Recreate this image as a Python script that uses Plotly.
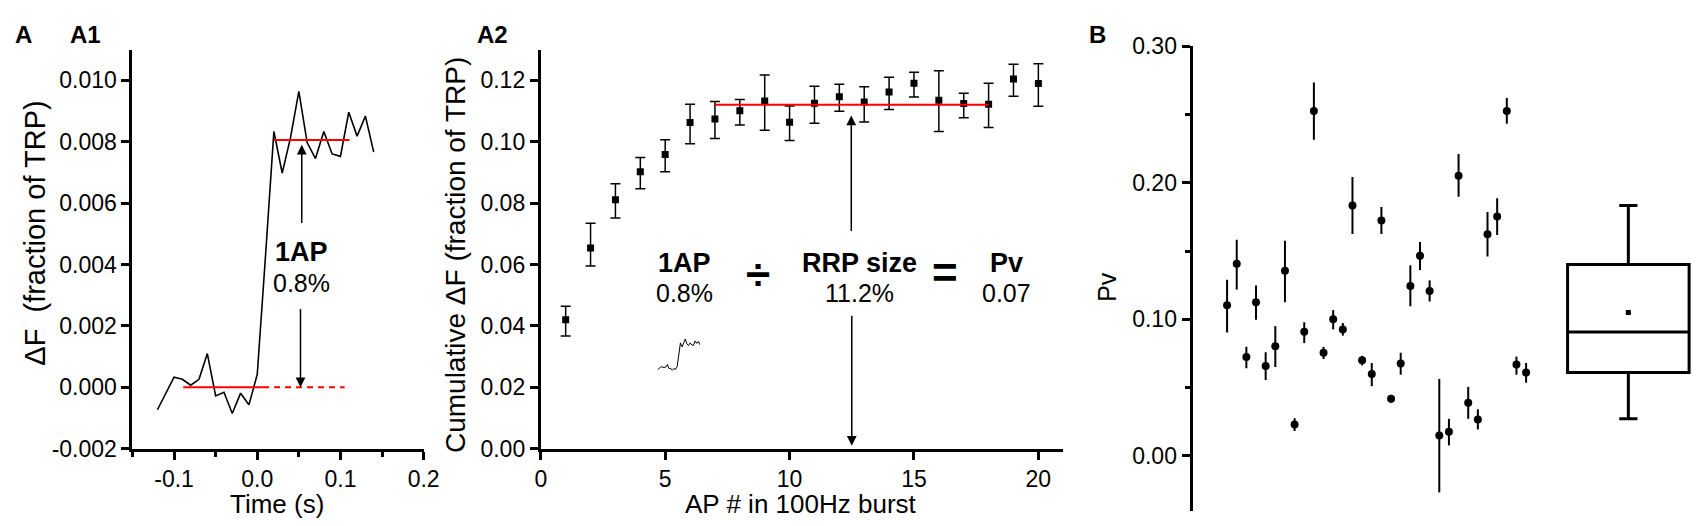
import plotly.graph_objects as go
import numpy as np

# ---- A1: single AP trace ----
time_s = [-0.12, -0.11, -0.10, -0.09, -0.08, -0.07, -0.06, -0.05, -0.04, -0.03,
          -0.02, -0.01, 0.00, 0.01, 0.02, 0.03, 0.04, 0.05, 0.06, 0.07,
          0.08, 0.09, 0.10, 0.11, 0.12, 0.13, 0.14]
dF = [-0.00073, -0.00020, 0.00033, 0.00026, 0.00007, 0.00026, 0.00110, -0.00028,
      -0.00016, -0.00085, -0.00019, -0.00057, 0.00042, 0.00430, 0.00833, 0.00698,
      0.00813, 0.00964, 0.00797, 0.00745, 0.00833, 0.00760, 0.00752, 0.00896,
      0.00818, 0.00883, 0.00766]
base_solid_t = [-0.089, 0.007]
base_dash_t = [0.007, 0.105]
base_level = 0.0
peak_t = [0.02, 0.111]
peak_level = 0.00805

# ---- A2: cumulative response in 100 Hz burst ----
ap_num = list(range(1, 21))
cum_dF = [0.0420, 0.0654, 0.0811, 0.0902, 0.0958, 0.1062, 0.1074, 0.1101, 0.1132, 0.1063,
          0.1125, 0.1146, 0.1129, 0.1162, 0.1190, 0.1135, 0.1124, 0.1122, 0.1204, 0.1189]
cum_hi = [0.0464, 0.0734, 0.0863, 0.0948, 0.1006, 0.1122, 0.1131, 0.1137, 0.1217, 0.1116,
          0.1180, 0.1187, 0.1179, 0.1210, 0.1226, 0.1231, 0.1158, 0.1190, 0.1252, 0.1254]
cum_lo = [0.0367, 0.0595, 0.0751, 0.0847, 0.0902, 0.0993, 0.1010, 0.1054, 0.1037, 0.1004,
          0.1060, 0.1099, 0.1064, 0.1105, 0.1145, 0.1033, 0.1078, 0.1046, 0.1148, 0.1115]
rrp_x = [7, 18]
rrp_level = 0.112

# ---- B: Pv per bouton ----
pv = [0.1103, 0.1407, 0.0724, 0.1126, 0.0658, 0.0803, 0.1356, 0.0230, 0.0909, 0.2527,
      0.0756, 0.1002, 0.0927, 0.1834, 0.0700, 0.0600, 0.1724, 0.0419, 0.0677, 0.1244,
      0.1466, 0.1208, 0.0150, 0.0178, 0.2052, 0.0389, 0.0267, 0.1623, 0.1754, 0.2527,
      0.0670, 0.0611]
pv_hi = [0.1290, 0.1583, 0.0799, 0.1248, 0.0759, 0.0951, 0.1576, 0.0276, 0.0979, 0.2735,
         0.0799, 0.1068, 0.0974, 0.2044, 0.0733, 0.0681, 0.1824, 0.0447, 0.0756, 0.1396,
         0.1567, 0.1286, 0.0564, 0.0272, 0.2211, 0.0506, 0.0342, 0.1787, 0.1888, 0.2621,
         0.0728, 0.0681]
pv_lo = [0.0904, 0.1220, 0.0642, 0.0998, 0.0557, 0.0651, 0.1126, 0.0183, 0.0827, 0.2316,
         0.0710, 0.0927, 0.0881, 0.1625, 0.0663, 0.0511, 0.1625, 0.0389, 0.0595, 0.1096,
         0.1361, 0.1131, -0.0267, 0.0077, 0.1899, 0.0272, 0.0194, 0.1461, 0.1618, 0.2433,
         0.0595, 0.0536]
pv_idx = list(range(1, len(pv) + 1))
box_q1, box_median, box_q3 = 0.0612, 0.0907, 0.1403
box_low, box_high, box_mean = 0.0272, 0.1835, 0.105
box_pos = 42.6

FONT = "Liberation Sans, Arial, sans-serif"
W, H = 1700, 526

fig = go.Figure()

# A1
fig.add_trace(go.Scatter(x=time_s, y=dF, mode="lines", line=dict(color="black", width=1.6),
                         xaxis="x", yaxis="y"))
fig.add_trace(go.Scatter(x=base_solid_t, y=[base_level] * 2, mode="lines",
                         line=dict(color="red", width=2), xaxis="x", yaxis="y"))
fig.add_trace(go.Scatter(x=base_dash_t, y=[base_level] * 2, mode="lines",
                         line=dict(color="red", width=2, dash="6px,5px"), xaxis="x", yaxis="y"))
fig.add_trace(go.Scatter(x=peak_t, y=[peak_level] * 2, mode="lines",
                         line=dict(color="red", width=2), xaxis="x", yaxis="y"))

# A2
cum = np.array(cum_dF)
fig.add_trace(go.Scatter(
    x=ap_num, y=cum_dF, mode="markers",
    marker=dict(symbol="square", size=7, color="black"),
    error_y=dict(type="data", symmetric=False, array=np.array(cum_hi) - cum,
                 arrayminus=cum - np.array(cum_lo), color="black", thickness=1.5, width=5),
    xaxis="x2", yaxis="y2"))
fig.add_trace(go.Scatter(x=rrp_x, y=[rrp_level] * 2, mode="lines",
                         line=dict(color="red", width=2), xaxis="x2", yaxis="y2"))
# inset: miniature of the single AP trace
fig.add_trace(go.Scatter(x=time_s, y=dF, mode="lines", line=dict(color="black", width=1),
                         xaxis="x4", yaxis="y4"))

# B
pva = np.array(pv)
fig.add_trace(go.Scatter(
    x=pv_idx, y=pv, mode="markers",
    marker=dict(symbol="circle", size=8, color="black"),
    error_y=dict(type="data", symmetric=False, array=np.array(pv_hi) - pva,
                 arrayminus=pva - np.array(pv_lo), color="black", thickness=2, width=0),
    xaxis="x3", yaxis="y3"))
fig.add_trace(go.Box(
    x=[box_pos], q1=[box_q1], median=[box_median], q3=[box_q3],
    lowerfence=[box_low], upperfence=[box_high], width=12.6, whiskerwidth=0.15,
    line=dict(color="black", width=3), fillcolor="white", boxpoints=False,
    xaxis="x3", yaxis="y3"))
fig.add_trace(go.Scatter(x=[box_pos], y=[box_mean], mode="markers",
                         marker=dict(symbol="square", size=5, color="black"),
                         xaxis="x3", yaxis="y3"))

axis_common = dict(showline=True, linecolor="black", linewidth=3, ticks="outside",
                   tickwidth=2.5, ticklen=8, tickcolor="black", showgrid=False,
                   zeroline=False, tickfont=dict(size=23, color="black", family=FONT))
minor_ticks = dict(tick0=0, ticks="outside", ticklen=5, tickwidth=2.5, tickcolor="black")

a1_yticks = [-0.002, 0.0, 0.002, 0.004, 0.006, 0.008, 0.010]

fig.update_layout(
    width=W, height=H, margin=dict(l=0, r=0, t=0, b=0),
    paper_bgcolor="white", plot_bgcolor="white", showlegend=False,
    font=dict(family=FONT, color="black", size=22),
    xaxis=dict(axis_common, domain=[120 / W, 415 / W], range=[-0.15, 0.2],
               tickvals=[-0.1, 0.0, 0.1, 0.2], ticktext=["-0.1", "0.0", "0.1", "0.2"],
               minor=dict(minor_ticks, dtick=0.05), anchor="y"),
    yaxis=dict(axis_common, domain=[1 - 450 / H, 1 - 30 / H], range=[-0.002, 0.011],
               tickvals=a1_yticks, ticktext=[f"{v:.3f}" for v in a1_yticks], anchor="x"),
    xaxis2=dict(axis_common, domain=[533.7 / W, 1063 / W], range=[0, 21], dtick=5,
                anchor="y2"),
    yaxis2=dict(axis_common, domain=[1 - 450 / H, 1 - 30 / H], range=[0, 0.13], dtick=0.02,
                tickformat=".2f", anchor="x2"),
    xaxis3=dict(domain=[1194 / W, 1.0], range=[-2.58, 49.2], visible=False, anchor="y3"),
    yaxis3=dict(axis_common, domain=[1 - 515 / H, 1 - 26.7 / H], range=[-0.04, 0.30],
                tickvals=[0.0, 0.1, 0.2, 0.3], tickformat=".2f",
                minor=dict(minor_ticks, dtick=0.05), anchor="x3"),
    xaxis4=dict(domain=[652 / W, 695 / W], range=[-0.12, 0.14], visible=False, anchor="y4"),
    yaxis4=dict(domain=[1 - 368 / H, 1 - 334 / H], range=[-0.001, 0.0098], visible=False,
                anchor="x4"),
)


def paper_text(text, x, y, size, angle=0):
    return dict(text=text, x=x / W, y=1 - y / H, xref="paper", yref="paper",
                xanchor="center", yanchor="middle",
                showarrow=False, textangle=angle, font=dict(size=size))


ann = [paper_text(f"<b>{t}</b>", x, 14, 24)
       for t, x in [("A", 10), ("A1", 72), ("A2", 485), ("B", 1098)]]
# axis titles
ann += [
    paper_text("Time (s)", 266, 508, 26),
    paper_text("AP # in 100Hz burst", 797, 508, 26),
    paper_text("\u0394F  (fraction of TRP)", 21, 223, 29, -90),
    paper_text("Cumulative \u0394F (fraction of TRP)", 448, 246, 28, -90),
    paper_text("Pv", 1107, 280, 25, -90),
]


def arrow(x, y, ax, ay, xr, yr):
    return dict(x=x, y=y, ax=ax, ay=ay, xref=xr, yref=yr, axref=xr, ayref=yr, text="",
                showarrow=True, arrowhead=2, arrowsize=1.3, arrowwidth=1.5,
                arrowcolor="black")


def data_text(text, x, y, xr, yr, size):
    return dict(text=text, x=x, y=y, xref=xr, yref=yr, showarrow=False,
                xanchor="center", yanchor="middle", font=dict(size=size))


bold_sz, reg_sz = 27, 25
# A1 labels and arrows
ann += [
    data_text("<b>1AP</b>", 0.0534, 0.0044, "x", "y", bold_sz),
    data_text("0.8%", 0.0534, 0.00339, "x", "y", reg_sz),
    arrow(0.0535, 0.0079, 0.0535, 0.0053, "x", "y"),
    arrow(0.052, 0.0, 0.052, 0.0026, "x", "y"),
]
# A2 labels and arrows
ann += [
    data_text("<b>1AP</b>", 5.77, 0.0605, "x2", "y2", bold_sz),
    data_text("0.8%", 5.77, 0.0508, "x2", "y2", reg_sz),
    data_text("<b>\u00f7</b>", 8.73, 0.0569, "x2", "y2", 44),
    data_text("<b>RRP size</b>", 12.82, 0.0605, "x2", "y2", bold_sz),
    data_text("11.2%", 12.82, 0.0508, "x2", "y2", reg_sz),
    data_text("<b>=</b>", 16.23, 0.0573, "x2", "y2", 44),
    data_text("<b>Pv</b>", 18.72, 0.0605, "x2", "y2", bold_sz),
    data_text("0.07", 18.72, 0.0508, "x2", "y2", reg_sz),
    arrow(12.48, 0.1085, 12.48, 0.0704, "x2", "y2"),
    arrow(12.5, 0.001, 12.5, 0.0438, "x2", "y2"),
]
fig.update_layout(annotations=ann)

fig.write_html("out.html")
